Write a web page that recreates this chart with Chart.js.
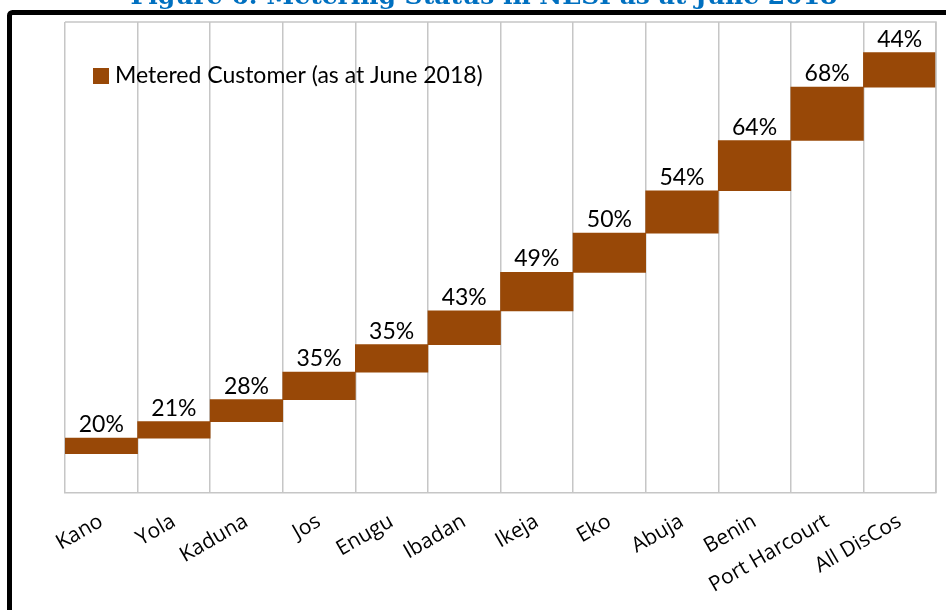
<!DOCTYPE html>
<html>
<head>
<meta charset="utf-8">
<title>Metering Status in NESI</title>
<script src="https://cdn.jsdelivr.net/npm/chart.js@4.4.1/dist/chart.umd.min.js"></script>
<style>
  html, body { margin: 0; padding: 0; background: #fff; }
  #wrap { position: relative; width: 946px; height: 610px; }
</style>
</head>
<body>
<div id="wrap"><canvas id="meterChart"></canvas></div>
<script>
// DisCo metering shares, June 2018 (percent)
const discos = ["Kano", "Yola", "Kaduna", "Jos", "Enugu", "Ibadan", "Ikeja", "Eko", "Abuja", "Benin", "Port Harcourt", "All DisCos"];
const metered = [20, 21, 28, 35, 35, 43, 49, 50, 54, 64, 68, 44];
const startLevel = 50;
const axisMax = 600;

const seriesLabel = "Metered Customer (as at June 2018)";
const titleText = "Figure 6: Metering Status in NESI as at June 2018";
const barColor = "#984807";
const gridColor = "#c6c6c6";

// each step sits on top of the previous one
const floating = [];
let level = startLevel;
metered.forEach(v => {
  floating.push([level, level + v]);
  level += v;
});

const decorations = {
  id: "decorations",
  afterDraw(chart) {
    const ctx = chart.ctx;
    const area = chart.chartArea;
    ctx.save();

    // plot frame (top and right edges)
    ctx.strokeStyle = gridColor;
    ctx.lineWidth = 1.5;
    ctx.beginPath();
    ctx.moveTo(area.left, area.top);
    ctx.lineTo(area.right, area.top);
    ctx.lineTo(area.right, area.bottom);
    ctx.stroke();

    // value labels above each step
    const meta = chart.getDatasetMeta(0);
    ctx.fillStyle = "#000";
    ctx.font = '23px Lato';
    ctx.textAlign = "center";
    ctx.textBaseline = "alphabetic";
    meta.data.forEach((bar, i) => {
      ctx.fillText(metered[i] + "%", bar.x, bar.y - 6);
    });

    // legend inside the plot
    const lx = 93, ly = 68;
    ctx.fillStyle = barColor;
    ctx.fillRect(lx, ly, 16, 16);
    ctx.fillStyle = "#000";
    ctx.textAlign = "left";
    ctx.textBaseline = "middle";
    ctx.font = '23px Lato';
    ctx.fillText(seriesLabel, lx + 22, ly + 8);

    // outer black frame
    ctx.strokeStyle = "#000";
    ctx.lineWidth = 5;
    ctx.beginPath();
    ctx.roundRect(9.5, 12.5, 960, 620, 3);
    ctx.stroke();

    // figure caption, partly cut off at the top edge
    ctx.fillStyle = "#0070C0";
    ctx.font = 'bold 25px "DejaVu Serif"';
    ctx.textAlign = "center";
    ctx.textBaseline = "alphabetic";
    ctx.fillText(titleText, 484, 4);
    ctx.restore();
  }
};

new Chart(document.getElementById("meterChart"), {
  type: "bar",
  data: {
    labels: discos,
    datasets: [{
      label: seriesLabel,
      data: floating,
      backgroundColor: barColor,
      borderWidth: 0,
      barPercentage: 1,
      categoryPercentage: 1
    }]
  },
  options: {
    responsive: true,
    maintainAspectRatio: false,
    animation: false,
    layout: { padding: { left: 65, right: 10, top: 22, bottom: 0 } },
    plugins: {
      legend: { display: false },
      tooltip: { enabled: false }
    },
    scales: {
      x: {
        grid: { color: gridColor, lineWidth: 1.5, drawTicks: false, offset: true },
        border: { color: gridColor, width: 1.5 },
        ticks: {
          color: "#000",
          font: { family: "Open Sans", size: 21 },
          minRotation: 30,
          maxRotation: 30,
          padding: 16
        },
        afterFit(scale) { scale.height = 117; }
      },
      y: {
        display: false,
        min: 0,
        max: axisMax
      }
    }
  },
  plugins: [decorations]
});
</script>
</body>
</html>
